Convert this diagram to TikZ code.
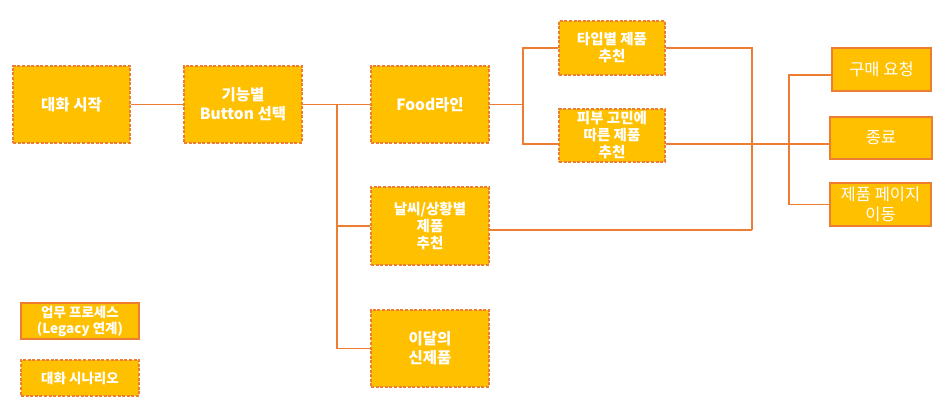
\documentclass[tikz,border=0pt]{standalone}
\usepackage{fontspec}
\setmainfont{Noto Sans CJK KR}
\usetikzlibrary{positioning}
\definecolor{boxfill}{HTML}{FFC000}
\definecolor{boxline}{HTML}{ED7D31}

\begin{document}
\begin{tikzpicture}
        [x=1pt,y=-1pt,
        box/.style={draw=boxline,fill=boxfill,line width=1.7pt,text=white,align=center,
            font=\fontsize{15.5}{19}\selectfont\bfseries,inner sep=1pt},
        small/.style={font=\fontsize{14.5}{17}\selectfont\bfseries},
        thin/.style={font=\fontsize{16.5}{20}\selectfont},
        scen/.style={box,dash pattern=on 3pt off 1.6pt},
        proc/.style={box},
        link/.style={draw=boxline,line width=1.7pt}]
        \useasboundingbox (0,0) rectangle (943,412);
        \node[scen,minimum width=117,minimum height=77] (start) at (71.5,104.5) {대화 시작};
        \node[scen,minimum width=118,minimum height=77] (func) at (243,104.5) {기능별\\Button 선택};
        \node[scen,minimum width=118,minimum height=77] (food) at (430,104.5) {Food라인};
        \node[scen,minimum width=118,minimum height=78,small] (weather) at (430,226) {날씨/상황별\\제품\\추천};
        \node[scen,minimum width=118,minimum height=77] (newp) at (430,348.5) {이달의\\신제품};
        \node[scen,minimum width=106,minimum height=54,small] (type) at (612,48) {타입별 제품\\추천};
        \node[scen,minimum width=106,minimum height=53,small] (skin) at (612,135.5) {피부 고민에\\따른 제품\\추천};
        \node[proc,minimum width=99,minimum height=43,thin] (buy) at (881.5,69.5) {구매 요청};
        \node[proc,minimum width=102,minimum height=42,thin] (quit) at (881,138) {종료};
        \node[proc,minimum width=101,minimum height=43,thin] (page) at (880.5,204.5) {제품 페이지\\이동};
        \node[proc,minimum width=118,minimum height=36,font=\fontsize{13.5}{16}\selectfont\bfseries] (legproc) at (80,321) {업무 프로세스\\(Legacy 연계)};
        \node[scen,minimum width=118,minimum height=36,font=\fontsize{13.5}{16}\selectfont\bfseries] (legscen) at (80,378) {대화 시나리오};

        \coordinate (fork) at (337,104.5);
        \coordinate (split) at (523,104.5);
        \coordinate (merge) at (752,230);
        \coordinate (out) at (789,144);

        \draw[link] (start) -- (func);
        \draw[link] (func) -- (food);
        \draw[link] (fork) |- (weather.west);
        \draw[link] (fork) |- (newp.west);
        \draw[link] (food) -- (split);
        \draw[link] (split) |- (type.west);
        \draw[link] (split) |- ([yshift=-8.5pt]skin.west);
        \draw[link] (type.east) -| (merge);
        \draw[link] ([yshift=-4pt]weather.east) -- (merge);
        \draw[link] ([yshift=-8.5pt]skin.east) -- ([yshift=-6pt]quit.west);
        \draw[link] (out) |- ([yshift=-5.5pt]buy.west);
        \draw[link] (out) |- (page.west);
    \end{tikzpicture}
\end{document}
